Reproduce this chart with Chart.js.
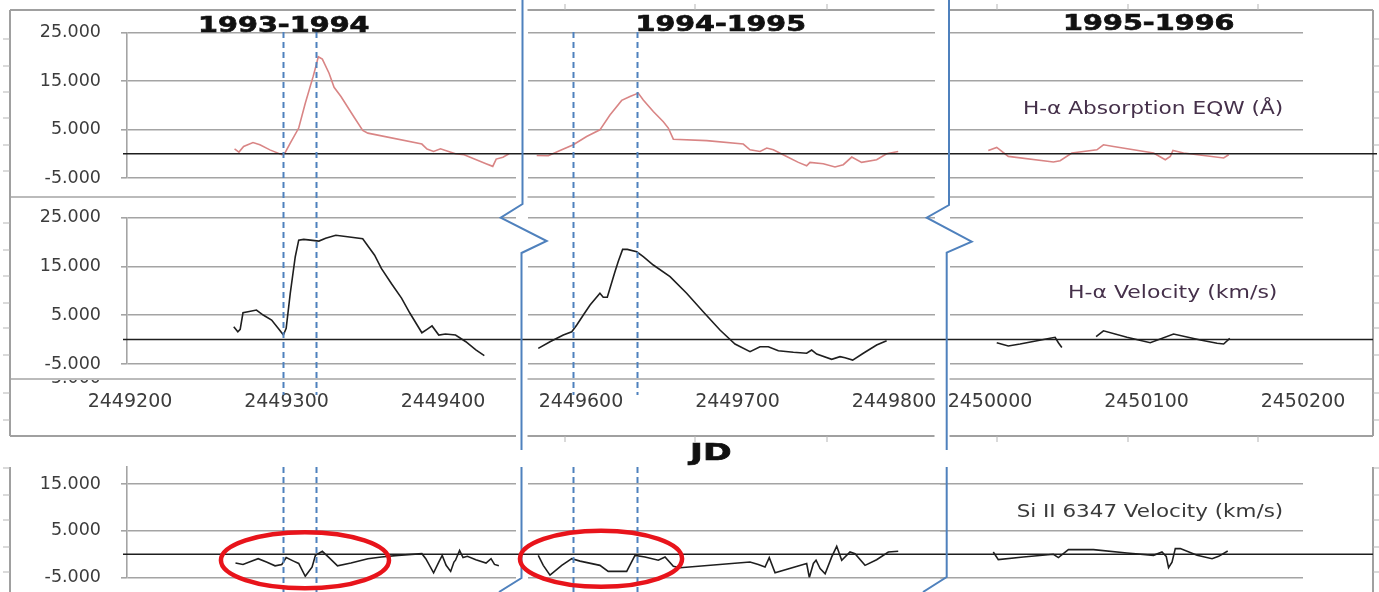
<!DOCTYPE html>
<html>
<head>
<meta charset="utf-8">
<script src="https://cdn.jsdelivr.net/npm/chart.js@4.4.1/dist/chart.umd.min.js"></script>
<style>
  html, body { margin: 0; padding: 0; background: #fff; }
  #stage { position: relative; width: 1379px; height: 592px; overflow: hidden; background: #fff; font-family: "DejaVu Sans", sans-serif; }
  #stage canvas { position: absolute; }
  .lbl { position: absolute; white-space: nowrap; line-height: 1; transform-origin: 50% 50%; }
  .heavy { -webkit-text-stroke: 0.7px #111; }
  .clip { position: absolute; overflow: hidden; }
</style>
</head>
<body>
<div id="stage"></div>
<script>
// ---- Season 1993-1994 ----
const eqwJD_9394 = [2449266.8, 2449269.6, 2449272.6, 2449278.6, 2449283.0, 2449289.4, 2449297.0, 2449299.2, 2449302.4, 2449307.8, 2449312.0, 2449317.0, 2449319.0, 2449320.3, 2449322.9, 2449327.2, 2449330.4, 2449334.8, 2449342.3, 2449348.7, 2449352.0, 2449386.5, 2449389.8, 2449394.0, 2449398.4, 2449401.6, 2449408.0, 2449413.5, 2449427.5, 2449431.8, 2449434.0, 2449438.3, 2449442.2];
const eqw_9394   = [1.0, 0.35, 1.5, 2.3, 1.85, 0.8, -0.2, 0.27, 2.2, 5.3, 10.4, 15.9, 18.3, 20.0, 19.5, 16.6, 13.7, 11.8, 8.0, 4.8, 4.25, 2.0, 0.97, 0.47, 1.03, 0.68, 0.0, -0.2, -2.05, -2.6, -1.1, -0.7, 0.0];
const velJD_9394 = [2449266.3, 2449268.9, 2449270.4, 2449272.2, 2449275.4, 2449280.8, 2449285.1, 2449290.5, 2449294.8, 2449298.0, 2449299.8, 2449302.4, 2449305.6, 2449307.8, 2449311.0, 2449315.3, 2449320.7, 2449325.0, 2449331.5, 2449339.0, 2449348.7, 2449356.3, 2449360.6, 2449367.0, 2449373.5, 2449378.9, 2449386.5, 2449389.8, 2449393.0, 2449397.3, 2449401.6, 2449408.0, 2449414.6, 2449421.0, 2449426.4];
const vel_9394   = [2.65, 1.62, 2.1, 5.5, 5.7, 6.07, 5.04, 4.0, 2.3, 0.94, 2.3, 9.5, 17.0, 20.4, 20.56, 20.4, 20.2, 20.8, 21.4, 21.1, 20.7, 17.3, 14.6, 11.5, 8.5, 5.4, 1.4, 2.1, 2.8, 0.94, 1.15, 0.94, -0.43, -2.1, -3.3];
const siJD_9394  = [2449267.4, 2449272.2, 2449277.5, 2449281.9, 2449287.2, 2449292.7, 2449297.0, 2449299.8, 2449304.5, 2449307.8, 2449312.0, 2449316.3, 2449318.5, 2449322.9, 2449327.2, 2449332.6, 2449341.2, 2449352.0, 2449360.6, 2449371.4, 2449386.5, 2449389.0, 2449394.0, 2449397.3, 2449399.5, 2449402.0, 2449404.9, 2449407.0, 2449408.0, 2449410.6, 2449412.8, 2449415.6, 2449421.0, 2449427.5, 2449430.7, 2449432.9, 2449435.7];
const si_9394    = [-1.9, -2.2, -1.5, -0.97, -1.7, -2.5, -2.2, -0.75, -1.5, -2.0, -4.75, -2.8, -0.26, 0.6, -0.75, -2.5, -1.9, -0.97, -0.6, -0.26, 0.1, -0.97, -4.0, -1.7, -0.26, -2.4, -3.7, -1.7, -1.3, 0.8, -0.75, -0.47, -1.2, -1.9, -0.97, -2.2, -2.5];

// ---- Season 1994-1995 ----
const eqwJD_9495 = [2449571.7, 2449579.1, 2449586.6, 2449595.1, 2449603.6, 2449612.1, 2449618.5, 2449626.0, 2449631.3, 2449636.6, 2449639.8, 2449646.2, 2449652.6, 2449655.8, 2449659.0, 2449680.3, 2449703.7, 2449708.0, 2449714.4, 2449718.7, 2449722.9, 2449731.4, 2449738.9, 2449744.2, 2449746.3, 2449754.8, 2449762.3, 2449767.6, 2449773.0, 2449779.3, 2449788.9, 2449795.3, 2449802.7];
const eqw_9495   = [-0.35, -0.41, 0.68, 1.85, 3.56, 4.93, 8.0, 11.0, 11.8, 12.5, 11.1, 8.7, 6.6, 5.3, 3.0, 2.7, 2.0, 0.82, 0.48, 1.17, 0.82, -0.55, -1.78, -2.47, -1.78, -2.05, -2.74, -2.26, -0.68, -1.78, -1.23, 0.0, 0.48];
const velJD_9495 = [2449572.7, 2449580.2, 2449588.7, 2449594.1, 2449597.3, 2449601.5, 2449605.8, 2449612.1, 2449614.2, 2449616.8, 2449621.7, 2449623.8, 2449626.6, 2449629.6, 2449635.6, 2449639.8, 2449646.2, 2449656.9, 2449667.5, 2449678.1, 2449688.8, 2449698.4, 2449708.0, 2449714.4, 2449719.7, 2449726.1, 2449735.7, 2449744.2, 2449747.4, 2449750.6, 2449760.2, 2449765.5, 2449768.7, 2449773.6, 2449780.4, 2449788.9, 2449795.3];
const vel_9495   = [-1.8, -0.43, 0.94, 1.62, 3.0, 5.04, 7.1, 9.5, 8.7, 8.7, 13.9, 16.0, 18.5, 18.5, 18.0, 17.0, 15.3, 12.9, 9.5, 5.7, 1.97, -0.9, -2.48, -1.46, -1.46, -2.27, -2.6, -2.8, -2.13, -2.95, -4.04, -3.5, -3.7, -4.2, -2.8, -1.1, -0.22];
const siJD_9495  = [2449572.7, 2449575.9, 2449580.2, 2449587.7, 2449594.1, 2449599.4, 2449612.1, 2449617.4, 2449629.2, 2449634.5, 2449640.9, 2449649.4, 2449653.7, 2449659.0, 2449663.3, 2449708.0, 2449713.3, 2449717.6, 2449720.3, 2449724.0, 2449744.2, 2449745.9, 2449748.5, 2449750.2, 2449752.8, 2449756.0, 2449760.2, 2449763.4, 2449766.6, 2449771.9, 2449775.1, 2449781.5, 2449788.9, 2449796.4, 2449802.7];
const si_9495    = [-0.26, -2.4, -4.5, -2.4, -0.97, -1.5, -2.4, -3.7, -3.7, -0.26, -0.6, -1.3, -0.6, -2.6, -2.9, -1.7, -2.2, -2.76, -0.75, -4.0, -2.0, -5.0, -2.0, -1.3, -3.1, -4.2, -0.6, 1.67, -1.3, 0.45, 0.1, -2.4, -1.2, 0.45, 0.6];

// ---- Season 1995-1996 ----
const eqwJD_9596 = [2449998.9, 2450004.3, 2450011.7, 2450040.5, 2450044.8, 2450052.3, 2450068.3, 2450072.5, 2450078.9, 2450104.5, 2450112.0, 2450115.2, 2450116.9, 2450123.7, 2450149.3, 2450152.5];
const eqw_9596   = [0.68, 1.3, -0.55, -1.7, -1.44, 0.14, 0.82, 1.85, 1.5, 0.14, -1.23, -0.55, 0.68, 0.14, -0.88, -0.2];
const velJD_9596 = [2450004.3, 2450011.7, 2450019.2, 2450038.4, 2450041.6, 2450043.7, 2450045.9, 2450057.0, 2450067.8, 2450072.5, 2450087.5, 2450102.4, 2450117.3, 2450134.4, 2450145.1, 2450149.3, 2450153.2];
const vel_9596   = [-0.63, -1.3, -0.9, 0.27, 0.47, -0.63, -1.6, null, 0.6, 1.8, 0.47, -0.63, 1.15, -0.08, -0.76, -0.9, 0.27];
const siJD_9596  = [2450002.1, 2450005.3, 2450021.3, 2450040.5, 2450043.7, 2450050.1, 2450066.1, 2450087.5, 2450104.5, 2450109.9, 2450112.6, 2450114.1, 2450116.3, 2450118.4, 2450121.6, 2450132.3, 2450141.9, 2450146.1, 2450151.9];
const si_9596    = [0.45, -1.18, -0.62, -0.04, -0.75, 0.96, 0.96, 0.24, -0.26, 0.45, -0.47, -2.9, -1.7, 1.18, 1.18, -0.26, -0.97, -0.47, 0.66];

// ---- Axis ticks, labels and marked epochs ----
const yTicksMain = [-5, 5, 15, 25];
const yTicksSi = [-5, 5, 15];
const jdTicks_9394 = [2449200, 2449300, 2449400];
const jdTicks_9495 = [2449600, 2449700, 2449800];
const jdTicks_9596 = [2450000, 2450100, 2450200];
const seasonTitles = ['1993-1994', '1994-1995', '1995-1996'];
const seriesNames = ['H-α Absorption EQW (Å)', 'H-α Velocity (km/s)', 'Si II 6347 Velocity (km/s)'];
const axisTitle = 'JD';
const markerJD_9394 = [2449298, 2449319];
const markerJD_9495 = [2449595, 2449636];
// circled Si II episodes: centre (JD, km/s) and half extents
const circledJD = [2449311.8, 2449612.8];
const circledV = [-1.3, -1.0];
const circledHalfJD = [53.7, 51.8];
const circledHalfV = [6.0, 6.0];

// ---- Layout ----
const FONT = '"DejaVu Sans", sans-serif';
const GRID = '#a4a4a4';
const TICK_TXT = '#3c3c3c';
const EQW_COL = '#d98585';
const VEL_COL = '#1f1f1f';

const rowBox = {
  eqw: { top: 32.5, bottom: 178, min: -5, max: 25, yTicks: yTicksMain },
  vel: { top: 217.7, bottom: 364, min: -5, max: 25, yTicks: yTicksMain },
  si:  { top: 467, bottom: 577.5, min: -5, max: 18.64, yTicks: yTicksSi }
};
const colBox = [
  { left: 127,   right: 516,  min: 2449198.08, max: 2449446.65 },
  { left: 527.5, right: 935,  min: 2449565.82, max: 2449826.20 },
  { left: 949.5, right: 1303, min: 2449974.12, max: 2450200.00 }
];
const colBoxSi = [
  colBox[0],
  { left: 527.5, right: 946,  min: 2449565.82, max: 2449833.23 },
  { left: 940,   right: 1303, min: 2449968.05, max: 2450200.00 }
];

const stage = document.getElementById('stage');
Chart.defaults.animation = false;
Chart.defaults.font.family = FONT;

function noPad(s) { s.paddingTop = 0; s.paddingBottom = 0; s.paddingLeft = 0; s.paddingRight = 0; }

function panel(rowKey, colIdx, xs, ys, color, xTickVals) {
  const r = rowBox[rowKey];
  const c = (rowKey === 'si' ? colBoxSi : colBox)[colIdx];
  const first = colIdx === 0;
  const showX = !!xTickVals;
  const cl = first ? 0 : Math.floor(c.left) - 2;
  const ct = Math.floor(r.top) - 10;
  const w = Math.ceil(c.right + (showX ? 48 : 4)) - cl;
  const h = Math.ceil(r.bottom + (showX ? 50 : 6)) - ct;
  const below = h - (r.bottom - ct);
  const cv = document.createElement('canvas');
  cv.width = w; cv.height = h;
  cv.style.left = cl + 'px'; cv.style.top = ct + 'px';
  cv.style.width = w + 'px'; cv.style.height = h + 'px';
  stage.appendChild(cv);
  const chart = new Chart(cv, {
    type: 'line',
    data: {
      datasets: [{
        data: xs.map((x, i) => ({ x: x, y: ys[i] })),
        borderColor: color, borderWidth: 1.6, pointRadius: 0, tension: 0, spanGaps: false, fill: false
      }]
    },
    options: {
      responsive: false, animation: false, devicePixelRatio: 1, events: [],
      layout: {
        autoPadding: false,
        padding: { left: first ? 0 : c.left - cl, top: r.top - ct, right: w - (c.right - cl), bottom: showX ? 0 : below }
      },
      plugins: { legend: { display: false }, tooltip: { enabled: false }, title: { display: false } },
      scales: {
        x: {
          type: 'linear', position: 'bottom', min: c.min, max: c.max, display: showX,
          grid: { display: false }, border: { display: false },
          afterBuildTicks: s => { if (xTickVals) s.ticks = xTickVals.map(v => ({ value: v })); },
          afterFit: s => { s.height = showX ? below : 0; noPad(s); },
          ticks: { padding: 19, color: TICK_TXT, font: { family: FONT, size: 19 }, maxRotation: 0, autoSkip: false, callback: v => String(v) }
        },
        y: {
          type: 'linear', position: 'left', min: r.min, max: r.max,
          grid: { color: GRID, lineWidth: 1.6, drawTicks: first, tickLength: 6 },
          border: { display: first, color: GRID, width: 1.6 },
          afterBuildTicks: s => { s.ticks = r.yTicks.map(v => ({ value: v })); },
          afterFit: s => { s.width = first ? c.left : 0; noPad(s); },
          ticks: { display: first, padding: 20, color: TICK_TXT, font: { family: FONT, size: 17.5 }, callback: v => Number(v).toFixed(3) }
        }
      }
    }
  });
  chart.$ox = cl; chart.$oy = ct;
  return chart;
}

const charts = {
  eqw: [
    panel('eqw', 0, eqwJD_9394, eqw_9394, EQW_COL),
    panel('eqw', 1, eqwJD_9495, eqw_9495, EQW_COL),
    panel('eqw', 2, eqwJD_9596, eqw_9596, EQW_COL)
  ],
  vel: [
    panel('vel', 0, velJD_9394, vel_9394, VEL_COL, jdTicks_9394),
    panel('vel', 1, velJD_9495, vel_9495, VEL_COL, jdTicks_9495),
    panel('vel', 2, velJD_9596, vel_9596, VEL_COL, jdTicks_9596)
  ],
  si: [
    panel('si', 0, siJD_9394, si_9394, VEL_COL),
    panel('si', 1, siJD_9495, si_9495, VEL_COL),
    panel('si', 2, siJD_9596, si_9596, VEL_COL)
  ]
};

// ---- Overlay: frames, zero lines, axis breaks, epoch markers, circled regions ----
const ov = document.createElement('canvas');
ov.width = 1379; ov.height = 592;
ov.style.left = '0px'; ov.style.top = '0px';
stage.appendChild(ov);
const g = ov.getContext('2d');
const X = (ch, v) => ch.$ox + ch.scales.x.getPixelForValue(v);
const Y = (ch, v) => ch.$oy + ch.scales.y.getPixelForValue(v);

function poly(pts, color, width, dash) {
  g.save();
  g.strokeStyle = color; g.lineWidth = width; g.setLineDash(dash || []);
  g.lineJoin = 'miter';
  g.beginPath();
  pts.forEach((p, i) => i ? g.lineTo(p[0], p[1]) : g.moveTo(p[0], p[1]));
  g.stroke();
  g.restore();
}

// frame of the upper block
const FRAME = '#a0a0a0';
const frameSegs = [[10, 516], [527.5, 934.5], [949.5, 1373]];
[10, 436].forEach(y => frameSegs.forEach(s => poly([[s[0], y], [s[1], y]], FRAME, 2)));
[197, 379].forEach(y => frameSegs.forEach(s => poly([[s[0], y], [s[1], y]], GRID, 1.4)));
poly([[10, 10], [10, 436]], FRAME, 2);
poly([[1373, 10], [1373, 436]], FRAME, 2);
[39, 66, 92, 118, 145, 171, 223, 250, 276, 303, 328, 355, 393, 420].forEach(y => {
  poly([[3, y], [10, y]], '#b5b5b5', 1);
  poly([[1373, y], [1379, y]], '#b5b5b5', 1);
});
[565, 695, 827, 997, 1128, 1258].forEach(x => {
  poly([[x, 4], [x, 10]], '#b5b5b5', 1);
  poly([[x, 436], [x, 442]], '#b5b5b5', 1);
});
// frame of the lower block
poly([[10, 467], [10, 592]], FRAME, 2);
poly([[1373, 467], [1373, 592]], FRAME, 2);
[468, 495, 520, 547, 572].forEach(y => {
  poly([[3, y], [10, y]], '#b5b5b5', 1);
  poly([[1373, y], [1379, y]], '#b5b5b5', 1);
});

// zero reference lines across all seasons
poly([[123, Y(charts.eqw[0], 0)], [1377, Y(charts.eqw[0], 0)]], '#1e1e1e', 1.5);
poly([[123, Y(charts.vel[0], 0)], [1373, Y(charts.vel[0], 0)]], '#1e1e1e', 1.5);
poly([[123, Y(charts.si[0], 0)], [1373, Y(charts.si[0], 0)]], '#1e1e1e', 1.5);

// season separators with axis-break zigzags
const BLUE = '#4f81bd';
poly([[522.5, 0], [522.5, 204], [500.7, 217.7], [546.7, 241], [521.5, 253], [521.5, 450]], BLUE, 2);
poly([[949, 0], [949, 205], [926.7, 217.7], [971.7, 241.7], [946.7, 252.7], [946.7, 450]], BLUE, 2);
poly([[521.5, 467], [521.5, 578], [499, 592]], BLUE, 2);
poly([[946.7, 467], [946.7, 577], [923, 592]], BLUE, 2);

// epoch markers
[[charts.vel[0], charts.si[0], markerJD_9394], [charts.vel[1], charts.si[1], markerJD_9495]].forEach(([up, lo, list]) => {
  list.forEach(jd => {
    const xu = Math.round(X(up, jd)) + 0.5;
    const xl = Math.round(X(lo, jd)) + 0.5;
    poly([[xu, 32], [xu, 395]], BLUE, 2, [6, 4]);
    poly([[xl, 467], [xl, 592]], BLUE, 2, [6, 4]);
  });
});

// circled Si II episodes
circledJD.forEach((jd, i) => {
  const ch = charts.si[i];
  const cx = X(ch, jd), cy = Y(ch, circledV[i]);
  const rx = Math.abs(X(ch, jd + circledHalfJD[i]) - cx);
  const ry = Math.abs(Y(ch, circledV[i] + circledHalfV[i]) - cy);
  g.save();
  g.strokeStyle = '#e8141b'; g.lineWidth = 4.5;
  g.beginPath(); g.ellipse(cx, cy, rx, ry, 0, 0, Math.PI * 2); g.stroke();
  g.restore();
});

// ---- Text ----
function stretched(txt, cx, cy, targetW, css, cls) {
  const d = document.createElement('div');
  d.className = 'lbl' + (cls ? ' ' + cls : '');
  d.textContent = txt;
  Object.assign(d.style, css);
  stage.appendChild(d);
  const w = d.offsetWidth, h = d.offsetHeight;
  d.style.left = (cx - w / 2) + 'px';
  d.style.top = (cy - h / 2) + 'px';
  d.style.transform = 'scaleX(' + (targetW / w).toFixed(3) + ')';
  return d;
}
const titleCss = { fontFamily: FONT, fontWeight: '700', fontSize: '22px', color: '#111' };
stretched(seasonTitles[0], 284, 24.5, 172, titleCss, 'heavy');
stretched(seasonTitles[1], 720.5, 24, 171, titleCss, 'heavy');
stretched(seasonTitles[2], 1149, 22.5, 172, titleCss, 'heavy');
stretched(axisTitle, 711, 452, 42, { fontFamily: FONT, fontWeight: '700', fontSize: '23px', color: '#111' }, 'heavy');
stretched(seriesNames[0], 1153.3, 108, 260, { fontFamily: FONT, fontSize: '18px', color: '#45304a' });
stretched(seriesNames[1], 1172.8, 292, 209, { fontFamily: FONT, fontSize: '18px', color: '#45304a' });
stretched(seriesNames[2], 1150, 510.5, 266.7, { fontFamily: FONT, fontSize: '18px', color: '#3a3a3a' });

// tick label of the lower axis peeking out below the frame line
const peek = document.createElement('div');
peek.className = 'clip';
Object.assign(peek.style, { left: '30px', top: '380px', width: '80px', height: '5px' });
const peekTxt = document.createElement('div');
peekTxt.textContent = (yTicksMain[0]).toFixed(3);
Object.assign(peekTxt.style, { position: 'absolute', right: '9px', top: '-11px', fontFamily: FONT, fontSize: '17.5px', lineHeight: '1', color: TICK_TXT });
peek.appendChild(peekTxt);
stage.appendChild(peek);
</script>
</body>
</html>
